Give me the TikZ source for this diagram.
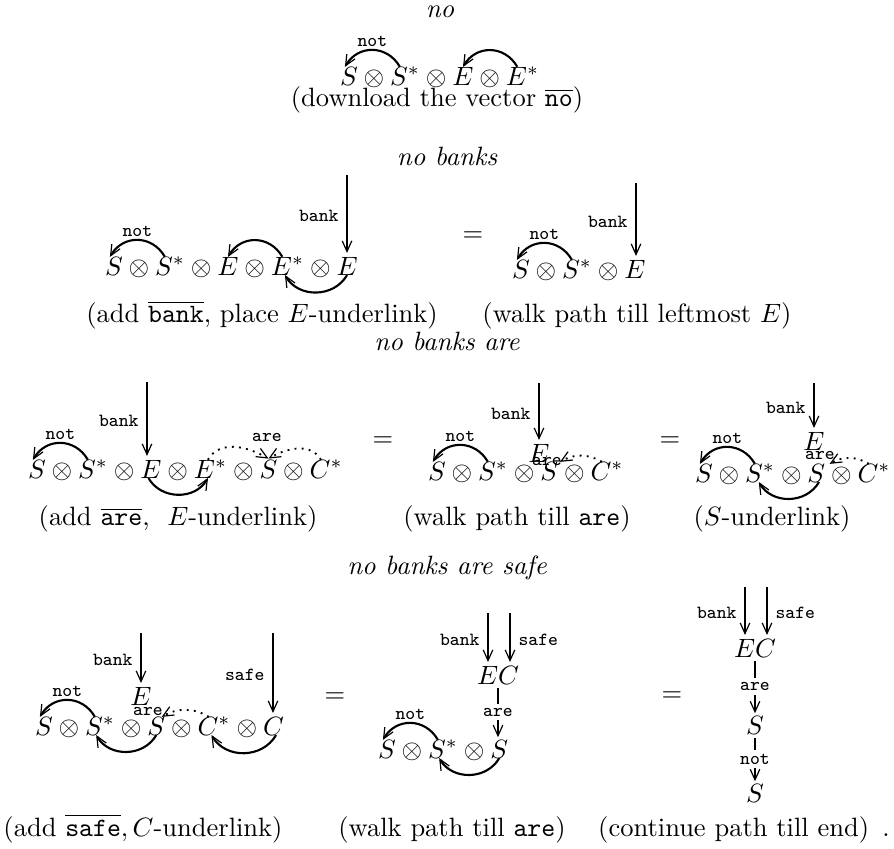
\documentclass[tikz,border=0pt]{standalone}
\usetikzlibrary{arrows.meta,positioning}
\begin{document}
\begin{tikzpicture}[x=0.3774pt,y=0.3774pt,
  >={Straight Barb[length=4pt,width=3.6pt,line width=0.45pt]},
  fac/.style={inner sep=0pt,outer sep=0pt},
  nxt/.style={fac,base right=2.22pt of #1},
  ttl/.style={anchor=base,font=\itshape},
  capt/.style={anchor=base},
  lab/.style={font=\ttfamily\scriptsize,inner sep=1pt},
  arcline/.style={line width=0.8pt,->},
  wordarrow/.style={line width=0.45pt,->,shorten >=1.5pt},
  chainarrow/.style={line width=0.45pt,->,shorten >=1pt,shorten <=1.5pt},
  dotarc/.style={line width=0.7pt,dotted,->},
  cut/.style={lab,fill=white,inner sep=1.5pt},
]
\useasboundingbox (0,0) rectangle (894,848);

% ---------------- section 1 ----------------
\node[ttl] (t1) at (440,831) {no};
\node[fac,anchor=base west] (a1) at (340,763) {$S$};
\node[nxt=a1] (a2) {$\otimes$};
\node[nxt=a2] (a3) {$S^*$};
\node[nxt=a3] (a4) {$\otimes$};
\node[nxt=a4] (a5) {$E$};
\node[nxt=a5] (a6) {$\otimes$};
\node[nxt=a6] (a7) {$E^*$};
\draw[arcline] ([xshift=-2pt]a3.north) to[out=120,in=60,looseness=1.2] node[midway,lab,above]{not} ([xshift=-1.5pt]a1.north);
\draw[arcline] ([xshift=-2pt]a7.north) to[out=120,in=60,looseness=1.2] (a5.north);
\node[capt] (c1) at (437,742) {(download the vector $\overline{\texttt{no}}$)};

% ---------------- section 2 ----------------
\node[ttl] (t2) at (447,683) {no banks};
\node[fac,anchor=base west] (b1) at (105,573) {$S$};
\node[nxt=b1] (b2) {$\otimes$};
\node[nxt=b2] (b3) {$S^*$};
\node[nxt=b3] (b4) {$\otimes$};
\node[nxt=b4] (b5) {$E$};
\node[nxt=b5] (b6) {$\otimes$};
\node[nxt=b6] (b7) {$E^*$};
\node[nxt=b7] (b8) {$\otimes$};
\node[nxt=b8] (b9) {$E$};
\draw[arcline] ([xshift=-2pt]b3.north) to[out=120,in=60,looseness=1.2] node[midway,lab,above]{not} ([xshift=-1.5pt]b1.north);
\draw[arcline] ([xshift=-2pt]b7.north) to[out=120,in=60,looseness=1.2] (b5.north);
\draw[arcline] (b9.south) to[out=-120,in=-60,looseness=1.1] ([xshift=-1pt]b7.south);
\coordinate (bk2) at (347,673);
\draw[wordarrow] (bk2) -- (bk2 |- b9.north) node[midway,left=2pt,lab]{bank};
\node[capt] (c2a) at (262,526) {(add $\overline{\texttt{bank}}$, place $E$-underlink)};

\node (eq2) at (473,611) {$=$};

\node[fac,anchor=base west] (c1a) at (512,570) {$S$};
\node[nxt=c1a] (c2) {$\otimes$};
\node[nxt=c2] (c3) {$S^*$};
\node[nxt=c3] (c4) {$\otimes$};
\node[nxt=c4] (c5) {$E$};
\draw[arcline] ([xshift=-2pt]c3.north) to[out=120,in=60,looseness=1.2] node[midway,lab,above]{not} ([xshift=-1.5pt]c1a.north);
\coordinate (bk2r) at (636,665);
\draw[wordarrow] (bk2r) -- (bk2r |- c5.north) node[midway,left=2pt,lab]{bank};
\node[capt] (c2b) at (637,526) {(walk path till leftmost $E$)};

% ---------------- section 3 ----------------
\node[ttl] (t3) at (447,498) {no banks are};
\node[fac,anchor=base west] (d1) at (28,370) {$S$};
\node[nxt=d1] (d2) {$\otimes$};
\node[nxt=d2] (d3) {$S^*$};
\node[nxt=d3] (d4) {$\otimes$};
\node[nxt=d4] (d5) {$E$};
\node[nxt=d5] (d6) {$\otimes$};
\node[nxt=d6] (d7) {$E^*$};
\node[nxt=d7] (d8) {$\otimes$};
\node[nxt=d8] (d9) {$S$};
\node[nxt=d9] (d10) {$\otimes$};
\node[nxt=d10] (d11) {$C^*$};
\draw[arcline] ([xshift=-2pt]d3.north) to[out=120,in=60,looseness=1.2] node[midway,lab,above]{not} ([xshift=-1.5pt]d1.north);
\draw[arcline] ([xshift=-1pt]d5.south) to[out=-60,in=-120,looseness=1.1] ([xshift=-1pt]d7.south);
\draw[dotarc] ([xshift=-1pt]d7.north) to[out=60,in=150] ([yshift=0.5pt]d9.north);
\draw[dotarc] ([xshift=-2pt]d11.north) to[out=120,in=30] ([yshift=0.5pt]d9.north);
\node[lab] (ar3) at (267,411) {are};
\coordinate (bk3) at (147,466);
\draw[wordarrow] (bk3) -- (bk3 |- d5.north) node[midway,left=2pt,lab]{bank};
\node[capt] (c3a) at (178,323) {(add $\overline{\texttt{are}}$,\ \ $E$-underlink)};

\node (eq3a) at (383,406) {$=$};

\node[fac,anchor=base west] (e1) at (428,368) {$S$};
\node[nxt=e1] (e2) {$\otimes$};
\node[nxt=e2] (e3) {$S^*$};
\node[nxt=e3] (e4) {$\otimes$};
\node[nxt=e4] (e5) {$S$};
\node[nxt=e5] (e6) {$\otimes$};
\node[nxt=e6] (e7) {$C^*$};
\node[fac] (eE) at (539,395) {$E$};
\node[lab] (eare) at (547,387) {are};
\draw[arcline] ([xshift=-2pt]e3.north) to[out=120,in=60,looseness=1.2] node[midway,lab,above]{not} ([xshift=-1.5pt]e1.north);
\draw[dotarc] ([xshift=-2pt]e7.north) to[out=150,in=30] ([xshift=4pt]e5.north);
\coordinate (bk3m) at (539,465);
\draw[wordarrow] (bk3m) -- (bk3m |- eE.north) node[midway,left=2pt,lab]{bank};
\node[capt] (c3b) at (517,323) {(walk path till \texttt{are})};

\node (eq3b) at (670,406) {$=$};

\node[fac,anchor=base west] (f1) at (695,366) {$S$};
\node[nxt=f1] (f2) {$\otimes$};
\node[nxt=f2] (f3) {$S^*$};
\node[nxt=f3] (f4) {$\otimes$};
\node[nxt=f4] (f5) {$S$};
\node[nxt=f5] (f6) {$\otimes$};
\node[nxt=f6] (f7) {$C^*$};
\node[fac] (fE) at (814,407) {$E$};
\node[lab] (fare) at (820,393) {are};
\draw[arcline] ([xshift=-2pt]f3.north) to[out=120,in=60,looseness=1.2] node[midway,lab,above]{not} ([xshift=-1.5pt]f1.north);
\draw[arcline] ([xshift=1pt]f5.south) to[out=-120,in=-60,looseness=1.1] ([xshift=-0.5pt]f3.south);
\draw[dotarc] ([xshift=-2pt]f7.north) to[out=150,in=30] ([xshift=5pt]f5.north);
\coordinate (bk3r) at (814,465);
\draw[wordarrow] (bk3r) -- (bk3r |- fE.north) node[midway,left=2pt,lab]{bank};
\node[capt] (c3c) at (772,323) {($S$-underlink)};

% ---------------- section 4 ----------------
\node[ttl] (t4) at (447,274) {no banks are safe};
\node[fac,anchor=base west] (g1) at (35,113) {$S$};
\node[nxt=g1] (g2) {$\otimes$};
\node[nxt=g2] (g3) {$S^*$};
\node[nxt=g3] (g4) {$\otimes$};
\node[nxt=g4] (g5) {$S$};
\node[nxt=g5] (g6) {$\otimes$};
\node[nxt=g6] (g7) {$C^*$};
\node[nxt=g7] (g8) {$\otimes$};
\node[nxt=g8] (g9) {$C$};
\node[fac] (gE) at (141,152) {$E$};
\node[lab] (gare) at (148,137) {are};
\draw[arcline] ([xshift=-2pt]g3.north) to[out=120,in=60,looseness=1.2] node[midway,lab,above]{not} ([xshift=-1.5pt]g1.north);
\draw[arcline] (g5.south) to[out=-120,in=-60,looseness=1.1] ([xshift=-1.5pt]g3.south);
\draw[arcline] ([xshift=1pt]g9.south) to[out=-120,in=-60,looseness=1.1] ([xshift=-1pt]g7.south);
\draw[dotarc] ([xshift=-2pt]g7.north) to[out=150,in=30] ([xshift=2pt]g5.north);
\coordinate (bk4) at (141,215);
\draw[wordarrow] (bk4) -- (bk4 |- gE.north) node[midway,left=2pt,lab]{bank};
\coordinate (sf4) at (273,215);
\draw[wordarrow] (sf4) -- (sf4 |- g9.north) node[midway,left=2pt,lab]{safe};
\node[capt] (c4a) at (143,12) {(add $\overline{\texttt{safe}}, C$-underlink)};

\node (eq4a) at (335,150) {$=$};

\node[fac,anchor=base west] (h1) at (378,90) {$S$};
\node[nxt=h1] (h2) {$\otimes$};
\node[nxt=h2] (h3) {$S^*$};
\node[nxt=h3] (h4) {$\otimes$};
\node[nxt=h4] (h5) {$S$};
\node[fac] (hEC) at (498,173) {$EC$};
\draw[arcline] ([xshift=-2pt]h3.north) to[out=120,in=60,looseness=1.2] node[midway,lab,above]{not} ([xshift=-1.5pt]h1.north);
\draw[arcline] (h5.south) to[out=-120,in=-60,looseness=1.1] ([xshift=-1.5pt]h3.south);
\draw[chainarrow] (hEC.south) -- (hEC.south |- h5.north) node[midway,cut]{are};
\coordinate (bk4m) at (488,235);
\draw[wordarrow] (bk4m) -- (bk4m |- hEC.north) node[midway,left=2pt,lab]{bank};
\coordinate (sf4m) at (510,235);
\draw[wordarrow] (sf4m) -- (sf4m |- hEC.north) node[midway,right=2pt,lab]{safe};
\node[capt] (c4b) at (452,12) {(walk path till \texttt{are})};

\node (eq4b) at (672,151) {$=$};

\node[fac] (iEC) at (755,200) {$EC$};
\node[fac] (iS1) at (755,123) {$S$};
\node[fac] (iS2) at (755,55) {$S$};
\draw[chainarrow] (iEC) -- (iS1) node[midway,cut]{are};
\draw[chainarrow] (iS1) -- (iS2) node[midway,cut]{not};
\coordinate (bk4r) at (745,261);
\draw[wordarrow] (bk4r) -- (bk4r |- iEC.north) node[midway,left=2pt,lab]{bank};
\coordinate (sf4r) at (767,261);
\draw[wordarrow] (sf4r) -- (sf4r |- iEC.north) node[midway,right=2pt,lab]{safe};
\node[capt] (c4c) at (744,12) {(continue path till end)\enspace.};
\end{tikzpicture}
\end{document}
